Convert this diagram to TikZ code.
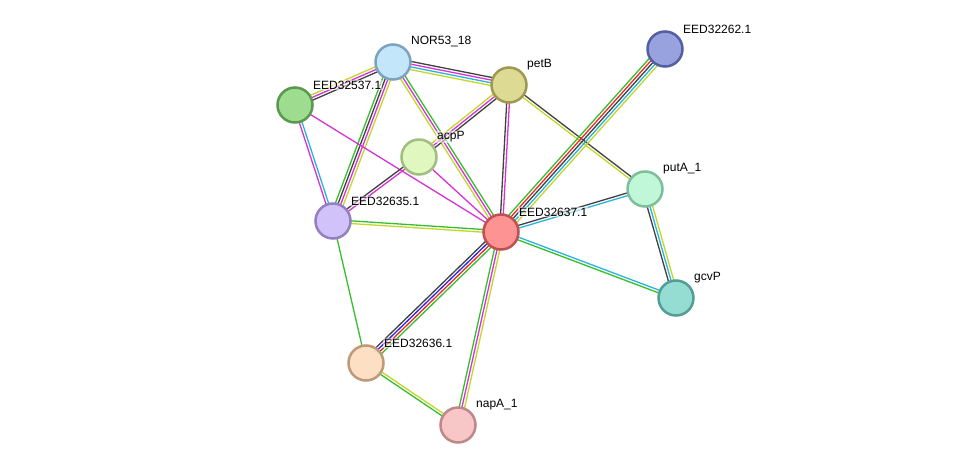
\documentclass[tikz,border=0pt]{standalone}
\usepackage{fontspec}
\setmainfont{Liberation Sans}
\usetikzlibrary{calc,backgrounds}
\definecolor{eg}{RGB}{55,190,45}
\definecolor{er}{RGB}{240,40,40}
\definecolor{eb}{RGB}{40,40,235}
\definecolor{ek}{RGB}{65,65,65}
\definecolor{em}{RGB}{215,50,215}
\definecolor{ec}{RGB}{40,180,220}
\definecolor{ey}{RGB}{195,215,40}
\definecolor{fnor}{RGB}{196,230,251}\definecolor{dnor}{RGB}{125,162,190}
\definecolor{fpetb}{RGB}{221,218,148}\definecolor{dpetb}{RGB}{158,152,82}
\definecolor{f537}{RGB}{158,220,143}\definecolor{d537}{RGB}{90,152,78}
\definecolor{facpp}{RGB}{224,247,192}\definecolor{dacpp}{RGB}{160,190,128}
\definecolor{f262}{RGB}{152,162,222}\definecolor{d262}{RGB}{82,95,160}
\definecolor{fputa}{RGB}{192,247,216}\definecolor{dputa}{RGB}{126,190,154}
\definecolor{f635}{RGB}{209,195,250}\definecolor{d635}{RGB}{148,128,192}
\definecolor{f637}{RGB}{253,147,147}\definecolor{d637}{RGB}{190,80,80}
\definecolor{fgcvp}{RGB}{149,221,211}\definecolor{dgcvp}{RGB}{82,158,150}
\definecolor{f636}{RGB}{253,223,195}\definecolor{d636}{RGB}{190,154,122}
\definecolor{fnapa}{RGB}{247,198,198}\definecolor{dnapa}{RGB}{190,136,136}
\newcommand\mylink[4]{%
  \foreach \cc [count=\ii] in {#4}{%
    \pgfmathsetmacro\off{(\ii-(#3+1)/2)*2.7}%
    \draw[line width=1.3pt,\cc] ($(#1.center)!\off pt!90:(#2.center)$) -- ($(#2.center)!\off pt!-90:(#1.center)$);
  }}
\tikzset{
  prot/.style={circle, draw=d#1, fill=f#1, line width=2.5pt, minimum size=35pt, inner sep=0pt},
  lab/.style={anchor=west, font=\fontsize{12}{14}\selectfont, text=black, inner sep=1pt, fill=white, fill opacity=0.55, text opacity=1},
}
\begin{document}
\begin{tikzpicture}[x=1pt,y=-1pt]
\useasboundingbox (0,0) rectangle (975,471);
% nodes
\node[prot=nor] (nor) at (393,62) {};
\node[prot=petb] (petb) at (509,85) {};
\node[prot=537] (e537) at (295,105) {};
\node[prot=acpp] (acpp) at (419,157) {};
\node[prot=262] (e262) at (665,49) {};
\node[prot=puta] (puta) at (645,189) {};
\node[prot=635] (e635) at (333,221) {};
\node[prot=637] (e637) at (501,232) {};
\node[prot=gcvp] (gcvp) at (676,298) {};
\node[prot=636] (e636) at (366,363) {};
\node[prot=napa] (napa) at (458,425) {};
% edges
\begin{pgfonlayer}{background}
\fill[white] (0,0) rectangle (975,471);
\mylink{nor}{petb}{4}{ey,ec,em,ek}
\mylink{nor}{e537}{3}{ey,em,ek}
\mylink{nor}{e635}{4}{eg,ek,em,ey}
\mylink{nor}{e637}{3}{ey,em,eg}
\mylink{e537}{e635}{2}{em,ec}
\mylink{e537}{e637}{1}{em}
\mylink{petb}{acpp}{3}{ey,em,ek}
\mylink{petb}{e637}{2}{ek,em}
\mylink{petb}{puta}{2}{ey,ek}
\mylink{acpp}{e635}{2}{ek,em}
\mylink{acpp}{e637}{1}{em}
\mylink{e635}{e637}{2}{ey,eg}
\mylink{e635}{e636}{1}{eg}
\mylink{e637}{e262}{5}{ey,ec,ek,er,eg}
\mylink{e637}{puta}{2}{ec,ek}
\mylink{e637}{gcvp}{2}{eg,ec}
\mylink{e637}{e636}{4}{ek,eb,er,eg}
\mylink{e637}{napa}{3}{eg,em,ey}
\mylink{e636}{napa}{2}{eg,ey}
\mylink{puta}{gcvp}{3}{ek,ec,ey}
\end{pgfonlayer}
% labels
\node[lab] (lnor) at ($(nor)+(17,-20)$) {NOR53\_18};
\node[lab] (lpetb) at ($(petb)+(17,-20)$) {petB};
\node[lab] (l537) at ($(e537)+(17,-20)$) {EED32537.1};
\node[lab] (lacpp) at ($(acpp)+(17,-20)$) {acpP};
\node[lab] (l262) at ($(e262)+(17,-20)$) {EED32262.1};
\node[lab] (lputa) at ($(puta)+(17,-20)$) {putA\_1};
\node[lab] (l635) at ($(e635)+(17,-20)$) {EED32635.1};
\node[lab] (l637) at ($(e637)+(17,-20)$) {EED32637.1};
\node[lab] (lgcvp) at ($(gcvp)+(17,-20)$) {gcvP};
\node[lab] (l636) at ($(e636)+(17,-20)$) {EED32636.1};
\node[lab] (lnapa) at ($(napa)+(17,-20)$) {napA\_1};
\end{tikzpicture}
\end{document}
